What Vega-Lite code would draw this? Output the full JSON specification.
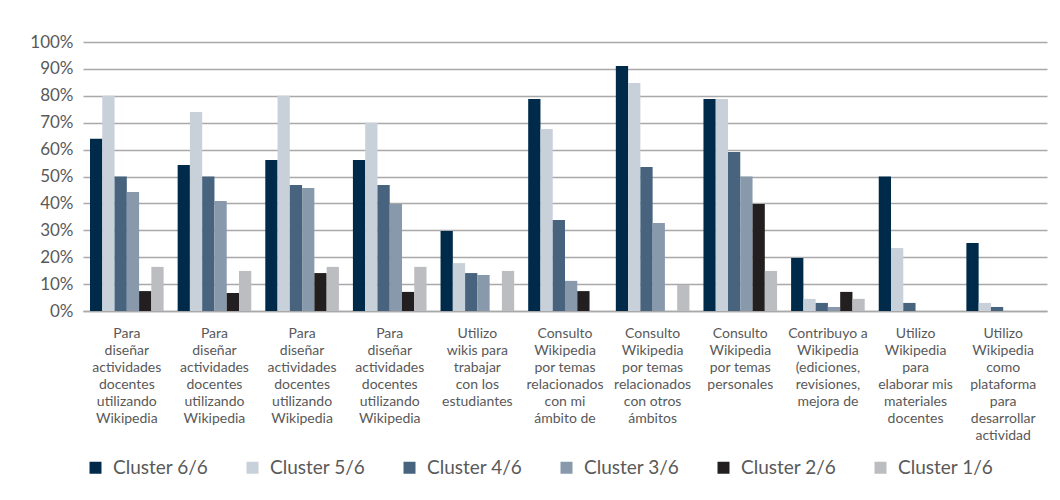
{
  "$schema": "https://vega.github.io/schema/vega-lite/v6.json",
  "width": 964,
  "height": 269,
  "padding": {"left": 29, "top": 33, "right": 10, "bottom": 5},
  "background": "white",
  "config": {
    "view": {"stroke": null},
    "font": "Lato"
  },
  "data": {
    "values": [
      {"cat": "01|Para|diseñar|actividades|docentes|utilizando|Wikipedia", "cluster": "Cluster 6/6", "value": 0.64},
      {"cat": "01|Para|diseñar|actividades|docentes|utilizando|Wikipedia", "cluster": "Cluster 5/6", "value": 0.80},
      {"cat": "01|Para|diseñar|actividades|docentes|utilizando|Wikipedia", "cluster": "Cluster 4/6", "value": 0.50},
      {"cat": "01|Para|diseñar|actividades|docentes|utilizando|Wikipedia", "cluster": "Cluster 3/6", "value": 0.442},
      {"cat": "01|Para|diseñar|actividades|docentes|utilizando|Wikipedia", "cluster": "Cluster 2/6", "value": 0.074},
      {"cat": "01|Para|diseñar|actividades|docentes|utilizando|Wikipedia", "cluster": "Cluster 1/6", "value": 0.164},
      {"cat": "02|Para|diseñar|actividades|docentes|utilizando|Wikipedia", "cluster": "Cluster 6/6", "value": 0.543},
      {"cat": "02|Para|diseñar|actividades|docentes|utilizando|Wikipedia", "cluster": "Cluster 5/6", "value": 0.74},
      {"cat": "02|Para|diseñar|actividades|docentes|utilizando|Wikipedia", "cluster": "Cluster 4/6", "value": 0.50},
      {"cat": "02|Para|diseñar|actividades|docentes|utilizando|Wikipedia", "cluster": "Cluster 3/6", "value": 0.409},
      {"cat": "02|Para|diseñar|actividades|docentes|utilizando|Wikipedia", "cluster": "Cluster 2/6", "value": 0.067},
      {"cat": "02|Para|diseñar|actividades|docentes|utilizando|Wikipedia", "cluster": "Cluster 1/6", "value": 0.149},
      {"cat": "03|Para|diseñar|actividades|docentes|utilizando|Wikipedia", "cluster": "Cluster 6/6", "value": 0.561},
      {"cat": "03|Para|diseñar|actividades|docentes|utilizando|Wikipedia", "cluster": "Cluster 5/6", "value": 0.80},
      {"cat": "03|Para|diseñar|actividades|docentes|utilizando|Wikipedia", "cluster": "Cluster 4/6", "value": 0.468},
      {"cat": "03|Para|diseñar|actividades|docentes|utilizando|Wikipedia", "cluster": "Cluster 3/6", "value": 0.457},
      {"cat": "03|Para|diseñar|actividades|docentes|utilizando|Wikipedia", "cluster": "Cluster 2/6", "value": 0.141},
      {"cat": "03|Para|diseñar|actividades|docentes|utilizando|Wikipedia", "cluster": "Cluster 1/6", "value": 0.164},
      {"cat": "04|Para|diseñar|actividades|docentes|utilizando|Wikipedia", "cluster": "Cluster 6/6", "value": 0.561},
      {"cat": "04|Para|diseñar|actividades|docentes|utilizando|Wikipedia", "cluster": "Cluster 5/6", "value": 0.70},
      {"cat": "04|Para|diseñar|actividades|docentes|utilizando|Wikipedia", "cluster": "Cluster 4/6", "value": 0.468},
      {"cat": "04|Para|diseñar|actividades|docentes|utilizando|Wikipedia", "cluster": "Cluster 3/6", "value": 0.398},
      {"cat": "04|Para|diseñar|actividades|docentes|utilizando|Wikipedia", "cluster": "Cluster 2/6", "value": 0.071},
      {"cat": "04|Para|diseñar|actividades|docentes|utilizando|Wikipedia", "cluster": "Cluster 1/6", "value": 0.164},
      {"cat": "05|Utilizo|wikis para|trabajar|con los|estudiantes", "cluster": "Cluster 6/6", "value": 0.297},
      {"cat": "05|Utilizo|wikis para|trabajar|con los|estudiantes", "cluster": "Cluster 5/6", "value": 0.178},
      {"cat": "05|Utilizo|wikis para|trabajar|con los|estudiantes", "cluster": "Cluster 4/6", "value": 0.141},
      {"cat": "05|Utilizo|wikis para|trabajar|con los|estudiantes", "cluster": "Cluster 3/6", "value": 0.134},
      {"cat": "05|Utilizo|wikis para|trabajar|con los|estudiantes", "cluster": "Cluster 2/6", "value": 0},
      {"cat": "05|Utilizo|wikis para|trabajar|con los|estudiantes", "cluster": "Cluster 1/6", "value": 0.149},
      {"cat": "06|Consulto|Wikipedia|por temas|relacionados|con mi|ámbito de", "cluster": "Cluster 6/6", "value": 0.788},
      {"cat": "06|Consulto|Wikipedia|por temas|relacionados|con mi|ámbito de", "cluster": "Cluster 5/6", "value": 0.677},
      {"cat": "06|Consulto|Wikipedia|por temas|relacionados|con mi|ámbito de", "cluster": "Cluster 4/6", "value": 0.338},
      {"cat": "06|Consulto|Wikipedia|por temas|relacionados|con mi|ámbito de", "cluster": "Cluster 3/6", "value": 0.112},
      {"cat": "06|Consulto|Wikipedia|por temas|relacionados|con mi|ámbito de", "cluster": "Cluster 2/6", "value": 0.074},
      {"cat": "06|Consulto|Wikipedia|por temas|relacionados|con mi|ámbito de", "cluster": "Cluster 1/6", "value": 0},
      {"cat": "07|Consulto|Wikipedia|por temas|relacionados|con otros|ámbitos", "cluster": "Cluster 6/6", "value": 0.911},
      {"cat": "07|Consulto|Wikipedia|por temas|relacionados|con otros|ámbitos", "cluster": "Cluster 5/6", "value": 0.848},
      {"cat": "07|Consulto|Wikipedia|por temas|relacionados|con otros|ámbitos", "cluster": "Cluster 4/6", "value": 0.535},
      {"cat": "07|Consulto|Wikipedia|por temas|relacionados|con otros|ámbitos", "cluster": "Cluster 3/6", "value": 0.327},
      {"cat": "07|Consulto|Wikipedia|por temas|relacionados|con otros|ámbitos", "cluster": "Cluster 2/6", "value": 0},
      {"cat": "07|Consulto|Wikipedia|por temas|relacionados|con otros|ámbitos", "cluster": "Cluster 1/6", "value": 0.097},
      {"cat": "08|Consulto|Wikipedia|por temas|personales", "cluster": "Cluster 6/6", "value": 0.788},
      {"cat": "08|Consulto|Wikipedia|por temas|personales", "cluster": "Cluster 5/6", "value": 0.788},
      {"cat": "08|Consulto|Wikipedia|por temas|personales", "cluster": "Cluster 4/6", "value": 0.591},
      {"cat": "08|Consulto|Wikipedia|por temas|personales", "cluster": "Cluster 3/6", "value": 0.50},
      {"cat": "08|Consulto|Wikipedia|por temas|personales", "cluster": "Cluster 2/6", "value": 0.398},
      {"cat": "08|Consulto|Wikipedia|por temas|personales", "cluster": "Cluster 1/6", "value": 0.149},
      {"cat": "09|Contribuyo a|Wikipedia|(ediciones,|revisiones,|mejora de", "cluster": "Cluster 6/6", "value": 0.197},
      {"cat": "09|Contribuyo a|Wikipedia|(ediciones,|revisiones,|mejora de", "cluster": "Cluster 5/6", "value": 0.045},
      {"cat": "09|Contribuyo a|Wikipedia|(ediciones,|revisiones,|mejora de", "cluster": "Cluster 4/6", "value": 0.030},
      {"cat": "09|Contribuyo a|Wikipedia|(ediciones,|revisiones,|mejora de", "cluster": "Cluster 3/6", "value": 0.015},
      {"cat": "09|Contribuyo a|Wikipedia|(ediciones,|revisiones,|mejora de", "cluster": "Cluster 2/6", "value": 0.071},
      {"cat": "09|Contribuyo a|Wikipedia|(ediciones,|revisiones,|mejora de", "cluster": "Cluster 1/6", "value": 0.045},
      {"cat": "10|Utilizo|Wikipedia|para|elaborar mis|materiales|docentes", "cluster": "Cluster 6/6", "value": 0.50},
      {"cat": "10|Utilizo|Wikipedia|para|elaborar mis|materiales|docentes", "cluster": "Cluster 5/6", "value": 0.234},
      {"cat": "10|Utilizo|Wikipedia|para|elaborar mis|materiales|docentes", "cluster": "Cluster 4/6", "value": 0.030},
      {"cat": "10|Utilizo|Wikipedia|para|elaborar mis|materiales|docentes", "cluster": "Cluster 3/6", "value": 0},
      {"cat": "10|Utilizo|Wikipedia|para|elaborar mis|materiales|docentes", "cluster": "Cluster 2/6", "value": 0},
      {"cat": "10|Utilizo|Wikipedia|para|elaborar mis|materiales|docentes", "cluster": "Cluster 1/6", "value": 0},
      {"cat": "11|Utilizo|Wikipedia|como|plataforma|para|desarrollar|actividad", "cluster": "Cluster 6/6", "value": 0.253},
      {"cat": "11|Utilizo|Wikipedia|como|plataforma|para|desarrollar|actividad", "cluster": "Cluster 5/6", "value": 0.030},
      {"cat": "11|Utilizo|Wikipedia|como|plataforma|para|desarrollar|actividad", "cluster": "Cluster 4/6", "value": 0.015},
      {"cat": "11|Utilizo|Wikipedia|como|plataforma|para|desarrollar|actividad", "cluster": "Cluster 3/6", "value": 0},
      {"cat": "11|Utilizo|Wikipedia|como|plataforma|para|desarrollar|actividad", "cluster": "Cluster 2/6", "value": 0},
      {"cat": "11|Utilizo|Wikipedia|como|plataforma|para|desarrollar|actividad", "cluster": "Cluster 1/6", "value": 0}
    ]
  },
  "mark": {"type": "bar"},
  "encoding": {
    "x": {
      "field": "cat",
      "type": "nominal",
      "sort": null,
      "title": null,
      "scale": {"paddingInner": 0.16, "paddingOuter": 0.08},
      "axis": {
        "labelAngle": 0,
        "labelExpr": "slice(split(datum.value, '|'), 1)",
        "labelFontSize": 14,
        "labelLineHeight": 17,
        "labelColor": "#595959",
        "labelPadding": 15,
        "labelBaseline": "top",
        "labelLimit": 0,
        "ticks": false,
        "domain": true,
        "domainColor": "#A9A9A9",
        "domainWidth": 1.5
      }
    },
    "xOffset": {
      "field": "cluster",
      "type": "nominal",
      "sort": ["Cluster 6/6", "Cluster 5/6", "Cluster 4/6", "Cluster 3/6", "Cluster 2/6", "Cluster 1/6"],
      "scale": {"paddingInner": 0, "paddingOuter": 0}
    },
    "y": {
      "field": "value",
      "type": "quantitative",
      "title": null,
      "scale": {"domain": [0, 1]},
      "axis": {
        "values": [0, 0.1, 0.2, 0.3, 0.4, 0.5, 0.6, 0.7, 0.8, 0.9, 1],
        "format": ".0%",
        "labelFontSize": 17,
        "labelColor": "#595959",
        "labelPadding": 10,
        "ticks": false,
        "domain": false,
        "grid": true,
        "gridColor": "#A9A9A9",
        "gridWidth": 1.5
      }
    },
    "color": {
      "field": "cluster",
      "type": "nominal",
      "sort": ["Cluster 6/6", "Cluster 5/6", "Cluster 4/6", "Cluster 3/6", "Cluster 2/6", "Cluster 1/6"],
      "scale": {
        "domain": ["Cluster 6/6", "Cluster 5/6", "Cluster 4/6", "Cluster 3/6", "Cluster 2/6", "Cluster 1/6"],
        "range": ["#002A4A", "#C8D0D9", "#47637D", "#8799AB", "#231F20", "#BCBDC1"]
      },
      "legend": {
        "title": null,
        "orient": "none",
        "legendX": 3,
        "legendY": 416,
        "direction": "horizontal",
        "columns": 6,
        "columnPadding": 34,
        "symbolType": "square",
        "symbolSize": 144,
        "symbolStrokeWidth": 0,
        "labelFontSize": 19,
        "labelColor": "#595959",
        "labelOffset": 8,
        "labelLimit": 0
      }
    }
  }
}
